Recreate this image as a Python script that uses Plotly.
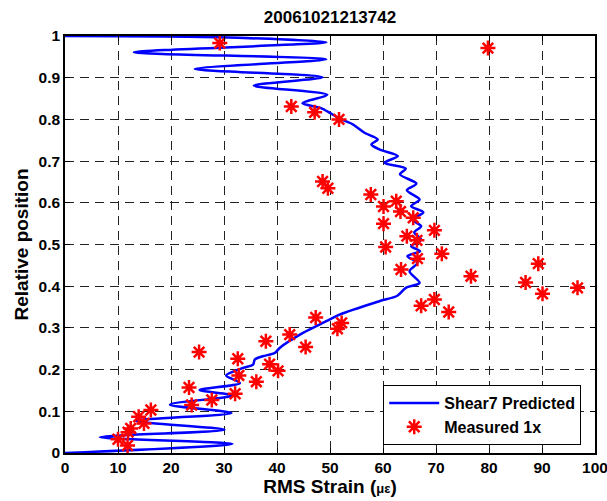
import plotly.graph_objects as go

# Shear7 predicted curve (RMS strain, relative position), read along the path from bottom to top
pred_strain = [0.0, 31.6, 6.6, 30.1, 13.4, 31.4, 19.8, 31.7, 25.4, 33.0, 30.4, 33.6, 35.5, 35.8,
               37.3, 39.6, 40.5, 44.9, 49.3, 51.8, 59.3, 62.7, 64.3, 66.9, 65.0, 66.5, 64.6, 67.0,
               65.3, 67.2, 65.9, 67.2, 65.5, 67.6, 65.3, 66.9, 64.5, 66.3, 63.2, 64.3, 60.3, 62.8,
               59.3, 57.8, 59.0, 56.5, 54.3, 51.8, 48.5, 44.8, 49.5, 35.6, 48.6, 24.5, 49.3, 13.0,
               49.3, 29.0, 0.0]
pred_pos = [0.0, 0.022, 0.038, 0.056, 0.077, 0.096, 0.116, 0.138, 0.151, 0.168, 0.186, 0.204, 0.212,
            0.224, 0.232, 0.240, 0.252, 0.288, 0.316, 0.332, 0.364, 0.377, 0.396, 0.408, 0.436, 0.456,
            0.472, 0.484, 0.496, 0.512, 0.529, 0.544, 0.560, 0.577, 0.592, 0.608, 0.630, 0.646, 0.668,
            0.682, 0.696, 0.712, 0.728, 0.740, 0.752, 0.768, 0.788, 0.802, 0.826, 0.839, 0.859, 0.881,
            0.901, 0.921, 0.944, 0.961, 0.985, 0.997, 1.0]

# Measured 1x points
meas_strain = [29.2, 79.8, 42.7, 47.1, 51.7, 48.6, 49.6, 57.7, 62.5, 60.1, 63.3, 65.7, 60.1, 69.7,
               64.5, 66.4, 60.5, 71.1, 66.5, 63.4, 76.6, 89.3, 86.9, 90.1, 96.7, 69.7, 67.2, 72.4,
               47.3, 52.2, 51.4, 42.4, 37.9, 45.4, 25.3, 32.6, 38.6, 40.2, 32.8, 36.1, 23.4, 32.1,
               27.7, 23.9, 16.2, 13.9, 14.9, 12.4, 11.9, 10.0, 11.8]
meas_pos = [0.983, 0.971, 0.831, 0.817, 0.800, 0.651, 0.635, 0.620, 0.604, 0.591, 0.579, 0.564, 0.550,
            0.534, 0.520, 0.510, 0.494, 0.478, 0.466, 0.440, 0.424, 0.454, 0.409, 0.382, 0.396, 0.368,
            0.353, 0.338, 0.325, 0.312, 0.298, 0.284, 0.268, 0.254, 0.242, 0.226, 0.213, 0.197, 0.186,
            0.171, 0.157, 0.142, 0.127, 0.115, 0.103, 0.087, 0.071, 0.059, 0.050, 0.033, 0.018]

x_ticks = [0, 10, 20, 30, 40, 50, 60, 70, 80, 90, 100]
x_tick_labels = ["0", "10", "20", "30", "40", "50", "60", "70", "80", "90", "100"]
y_ticks = [0, 0.1, 0.2, 0.3, 0.4, 0.5, 0.6, 0.7, 0.8, 0.9, 1]
y_tick_labels = ["0", "0.1", "0.2", "0.3", "0.4", "0.5", "0.6", "0.7", "0.8", "0.9", "1"]

FONT = "Liberation Sans, Arial, sans-serif"
TICK_SIZE = 15.5

W, H = 607, 501

fig = go.Figure()
fig.add_trace(go.Scatter(
    x=pred_strain, y=pred_pos, mode="lines", name="Shear7 Predicted",
    line=dict(color="#0000FF", width=2.5, shape="spline", smoothing=0.8),
))
fig.add_trace(go.Scatter(
    x=meas_strain, y=meas_pos, mode="markers", name="Measured 1x",
    marker=dict(symbol="asterisk-open", size=12.5, color="#FF0000",
                line=dict(color="#FF0000", width=2.5)),
))

axis_common = dict(
    showline=True, linecolor="black", linewidth=1.5, mirror="ticks",
    ticks="inside", ticklen=5, tickcolor="black",
    showgrid=True, gridcolor="#222222", gridwidth=1, griddash="9px,6px",
    zeroline=False, automargin=False, ticklabeloverflow="allow",
    tickfont=dict(family=FONT, size=TICK_SIZE, color="black", weight="bold"),
)

fig.update_layout(
    width=W, height=H,
    margin=dict(l=65, r=12, t=36, b=48),
    paper_bgcolor="white", plot_bgcolor="white",
    font=dict(family=FONT, color="black"),
    title=dict(text="<b>20061021213742</b>", x=330 / W, xanchor="center",
               y=1 - 17 / H, yanchor="middle",
               font=dict(family=FONT, size=17, color="black")),
    xaxis=dict(range=[0, 100], tickvals=x_ticks, ticktext=x_tick_labels,
               title=dict(text="<b>RMS Strain (<span style='font-size:13px'>με</span>)</b>",
                          font=dict(family=FONT, size=19, color="black"), standoff=3),
               **axis_common),
    yaxis=dict(range=[0, 1], tickvals=y_ticks, ticktext=y_tick_labels,
               title=dict(text="<b>Relative position</b>",
                          font=dict(family=FONT, size=19, color="black"), standoff=5),
               **axis_common),
    showlegend=True,
    legend=dict(x=0.974, y=0.019, xanchor="right", yanchor="bottom",
                bgcolor="white", bordercolor="black", borderwidth=1,
                font=dict(family=FONT, size=16, color="black", weight="bold"),
                tracegroupgap=0, itemwidth=50),
)

# remove the browser's default 8px body margin so the 607x501 figure fills the window exactly
fig.write_html("out.html",
               config={"displayModeBar": False},
               post_script="document.body.style.margin='0';document.body.style.overflow='hidden';")
